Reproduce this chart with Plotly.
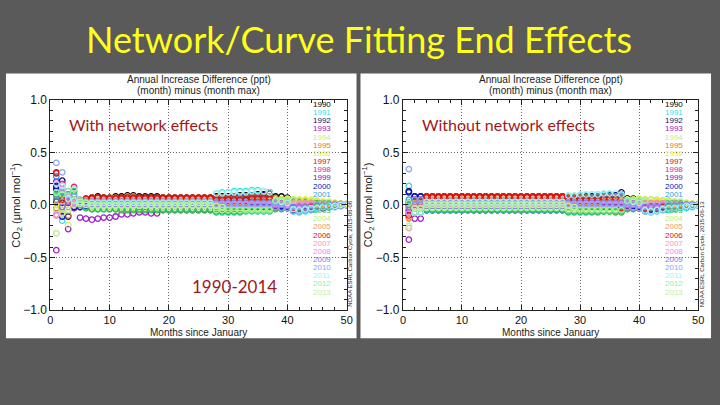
import plotly.graph_objects as go

W, H = 720, 405

YEARS = [1990, 1991, 1992, 1993, 1994, 1995, 1996, 1997, 1998, 1999, 2000, 2001,
         2002, 2003, 2004, 2005, 2006, 2007, 2008, 2009, 2010, 2011, 2012, 2013]
YEAR_COLORS = ['#000000', '#33dde8', '#101070', '#a020c8', '#c8ec80', '#e07838',
               '#f0f020', '#b81818', '#e020a0', '#7a10c8', '#1010c0', '#3898e0',
               '#20c890', '#30c050', '#b8f070', '#f0a050', '#e01010', '#f0a0b0',
               '#e090f0', '#8878e0', '#88a8f0', '#a8f0f0', '#98f098', '#c0f0a0']

# values in hundredths of umol/mol, months 1..n
# ---- With network effects ----
L1990 = [3,5,5,2,3,5,7,8,7,7, 8,8,9,9,8,8,8,8,7,7, 7,7,7,7,7,7,7,8,8,8, 8,9,9,9,10,10,11,8,8,7, 4,3,3,2,2,1,1,1,0,0]
L1991 = [12,-15,-5,0,2,3,3,2,2,2, 2,3,3,3,2,2,2,2,2,2, 2,2,2,2,2,2,2,11,12,12, 13,13,13,14,14,13,12,6,4,2, -6,-7,-6,-5,-4,-3,-2,-2,-1,0]
L1992 = [15,23,-11,3,0,-1,-1,0,0,-1, -1,-1,0,0,0,-1,-1,-1,-1,-1, -1,-1,-1,-1,-1,-1,-1,5,6,6, 7,7,7,8,8,9,12,4,3,2, -4,-4,-3,-3,-2,-2,-1,-1,0,0]
L1993 = [-43,-5,-23,-3,-12,-13,-14,-13,-12,-12, -11,-9,-9,-8,-7,-7,-8,-8,-5,-5, -5,-5,-5,-5,-5,-5,-5,-4,-4,-4, -4,-4,-4,-3,-3,-3,-3,-2,-2,-2, -2,-2,-1,-1,-1,-1,0,0,0,0]
L1994 = [-27,-5,-19,0,-2,-3,-3,-3,-2,-3, -3,-3,-3,-3,-3,-3,-3,-3,-3,-3, -3,-3,-3,-3,-3,-3,-3,-5,-5,-5, -5,-5,-4,-4,-4,-4,-4,5,5,5, 5,5,5,4,3,3,2,2,1,1]
L1995 = [-3,-8,-10,0,2,5,7,7,7,7, 7,7,8,8,7,7,7,7,7,7, 7,7,7,7,7,7,7,7,7,7, 7,7,7,8,8,8,8,6,5,4, 3,3,3,2,2,2,1,1,0,0]
L1996 = [0,3,2,3,4,4,4,4,4,4, 4,4,4,4,4,4,4,4,4,4, 4,4,4,4,4,4,4,2,2,2, 2,2,2,2,2,2,2,5,5,6, 5,5,5,5,4,3,3,2,1,1]
L1997 = [31,2,3,0,4,6,7,7,7,6, 6,7,7,7,7,7,7,7,7,7, 7,7,7,7,7,7,7,6,6,6, 6,6,6,7,7,7,7,3,2,0, 0,0,0,-1,-1,0,0,0,0,0]
L1998 = [20,20,8,17,5,4,3,3,3,3, 3,3,3,3,3,3,3,3,3,3, 3,3,3,3,3,3,3,4,4,4, 4,4,5,5,5,5,5,2,1,0, 0,0,0,0,0,0,0,1,1,0]
L1999 = [22,12,5,2,1,0,0,0,1,0, 0,0,0,0,0,0,0,0,0,0, 0,0,0,0,0,0,0,-2,-2,-2, -2,-2,-2,-2,-2,-2,-2,-1,-1,-1, -1,-1,-1,-1,0,0,0,0,0,0]
L2000 = [18,-11,3,-2,-2,-1,-1,-1,0,-1, -1,-1,-1,-1,-1,-1,-1,-1,-1,-1, -1,-1,-1,-1,-1,-1,-1,3,3,3, 3,3,4,4,4,4,5,0,-1,-2, -5,-5,-4,-4,-3,-3,-2,-1,-1,0]
L2001 = [27,8,10,5,3,2,2,2,2,2, 2,2,2,2,2,2,2,2,2,2, 2,2,2,2,2,2,2,5,5,5, 5,6,6,6,6,6,6,2,1,-1, -3,-3,-3,-3,-2,-2,-1,-1,0,0]
L2002 = [8,12,10,13,2,-2,-4,-4,-4,-4, -4,-4,-4,-4,-4,-4,-4,-4,-4,-4, -4,-4,-4,-4,-4,-4,-4,-7,-7,-7, -7,-7,-6,-6,-6,-6,-6,-3,-3,-3, -3,-3,-2,-2,-2,-1,-1,-1,0,0]
L2003 = [10,5,8,10,0,-3,-4,-4,-4,-4, -4,-5,-5,-5,-5,-5,-5,-5,-5,-5, -5,-5,-5,-5,-5,-5,-5,-6,-6,-6, -6,-6,-5,-5,-5,-5,-5,-4,-4,-3, -3,-2,-2,-2,-1,-1,-1,0,0,0]
L2004 = [-5,0,-2,5,3,2,1,1,1,1, 1,1,1,1,1,1,1,1,1,1, 1,1,1,1,1,1,1,-3,-3,-3, -3,-3,-3,-3,-3,-3,-3,4,5,5, 5,4,4,3,3,2,2,1,1,0]
L2005 = [-10,-8,-2,2,3,5,5,5,5,5, 5,5,5,5,5,5,5,5,5,5, 5,5,5,5,5,5,5,3,3,3, 3,3,3,4,4,4,4,3,3,3, 2,2,2,2,1,1,1,0,0,0]
L2006 = [30,5,2,3,4,6,6,7,6,6, 6,6,6,6,6,6,6,6,6,6, 6,6,6,6,6,6,6,5,5,5, 5,5,6,6,6,6,6,-2,-3,-3, -3,-2,-2,-2,-1,-1,-1,0,0,0]
L2007 = [-9,18,5,2,1,1,1,1,1,1, 1,1,1,1,1,1,1,1,1,1, 1,1,1,1,1,1,1,1,1,1, 1,1,1,1,1,1,1,1,1,0, 0,0,0,0,0,0,0,0,0,0]
L2008 = [-10,15,8,3,0,0,-1,-1,-1,-1, -1,-1,-1,-1,-1,-1,-1,-1,-1,-1, -1,-1,-1,-1,-1,-1,-1,0,0,0, 0,0,0,0,0,0,0,1,1,1, 1,1,1,1,0,0,0,0,0,0]
L2009 = [5,-2,3,0,0,1,1,1,1,1, 1,1,1,1,1,1,1,1,1,1, 1,1,1,1,1,1,1,2,2,2, 2,2,2,2,2,2,2,0,0,-1, -2,-2,-2,-1,-1,-1,0,0,0,0]
L2010 = [40,31,13,8,5,3,3,3,3,3, 3,3,3,3,3,3,3,3,3,3, 3,3,3,3,3,3,3,1,1,1, 1,1,1,1,1,1,1,-2,-3,-3, -6,-6,-5,-4,-3,-2,-2,-1,-1,0]
L2011 = [20,18,6,4,3,2,2,2,2,2, 2,2,2,2,2,2,2,2,2,2, 2,2,2,2,2,2,2,11,11,12, 12,12,12,13,13,13,12,4,3,2, -4,-5,-4,-3,-3,-2,-1,-1,0,0]
L2012 = [12,10,13,15,5,2,0,0,0,0, 0,0,0,0,0,0,0,0,0,0, 0,0,0,0,0,0,0,-5,-5,-5, -5,-5,-5,-5,-5,-5,-5,4,4,4, 4]
L2013 = [-27,-8,-5,0,1,0,-1,-1,-1,-1, -1,-1,-1,-1,-1,-1,-1,-1,-1,-1, -1,-1,-1,-1,-1,-1,-1,-1,-2]

# ---- Without network effects ----
R1990 = [2,5,5,8,8,8,8,8,8,8, 8,8,8,8,8,8,8,8,8,8, 8,8,8,8,8,8,8,7,7,7, 8,8,8,8,9,9,10,6,6,5, -5,-4,-3,-3,-2,-2,-2,-1,-1,0]
R1991 = [18,-7,-7,4,4,4,4,4,4,4, 4,4,4,4,4,4,4,4,4,4, 4,4,4,4,4,4,4,8,8,9, 9,10,10,10,10,9,9,5,4,3, -6,-7,-6,-5,-5,-4,-3,-3,-2,-1]
R1992 = [13,8,8,0,0,0,0,0,0,0, 0,0,0,0,0,0,0,0,0,0, 0,0,0,0,0,0,0,4,4,5, 5,6,7,7,8,9,12,6,5,4, -4,-4,-3,-3,-2,-2,-1,-1,0,0]
R1993 = [-33,-13,-13,-5,-5,-5,-5,-5,-5,-5, -5,-5,-5,-5,-5,-5,-5,-5,-5,-5, -5,-5,-5,-5,-5,-5,-5,-5,-5,-5, -5,-5,-5,-5,-5,-5,-5,-3,-3,-3, -2,-2,-2,-1,-1,-1,-1,0,0,0]
R1994 = [-2,0,0,-1,-1,-1,-1,-1,-1,-1, -1,-1,-1,-1,-1,-1,-1,-1,-1,-1, -1,-1,-1,-1,-1,-1,-1,-6,-6,-6, -6,-6,-6,-6,-6,-6,-6,5,5,5, 5,5,4,4,3,3,2,1,1,1]
R1995 = [-12,2,2,8,8,8,8,8,8,8, 8,8,8,8,8,8,8,8,8,8, 8,8,8,8,8,8,8,7,7,7, 7,7,8,8,8,8,8,3,2,2, 2,2,2,1,1,1,0,0,0,0]
R1996 = [-5,3,3,4,4,4,4,4,4,4, 4,4,4,4,4,4,4,4,4,4, 4,4,4,4,4,4,4,3,3,3, 3,3,3,3,3,3,3,5,5,6, 5,5,4,4,4,3,2,2,1,1]
R1997 = [-8,2,2,7,7,7,7,7,7,7, 7,7,7,7,7,7,7,7,7,7, 7,7,7,7,7,7,7,6,6,6, 6,6,6,6,6,6,-2,2,2,1, 0,0,0,0,0,0,0,0,0,0]
R1998 = [0,-2,-2,3,3,3,3,3,3,3, 3,3,3,3,3,3,3,3,3,3, 3,3,3,3,3,3,3,4,4,4, 4,4,4,4,4,5,5,1,1,0, 0,0,0,0,0,1,1,0,0,0]
R1999 = [-5,-3,-3,-5,-5,-5,-5,-5,-5,-5, -5,-5,-5,-5,-5,-5,-5,-5,-5,-5, -5,-5,-5,-5,-5,-5,-5,-2,-2,-2, -2,-2,-2,-2,-2,-2,-2,-1,-1,-1, -1,-1,-1,0,0,0,0,0,0,0]
R2000 = [12,8,8,-4,-4,-4,-4,-4,-4,-4, -4,-4,-4,-4,-4,-4,-4,-4,-4,-4, -4,-4,-4,-4,-4,-4,-4,3,3,3, 3,3,4,4,4,4,5,0,-1,-2, -5,-5,-4,-4,-3,-3,-2,-1,-1,0]
R2001 = [5,5,5,4,4,4,4,4,4,4, 4,4,4,4,4,4,4,4,4,4, 4,4,4,4,4,4,4,6,6,6, 6,7,7,7,7,7,7,2,1,-1, -3,-3,-3,-3,-2,-2,-1,-1,0,0]
R2002 = [2,-7,-7,-5,-5,-5,-5,-5,-5,-5, -5,-5,-5,-5,-5,-5,-5,-5,-5,-5, -5,-5,-5,-5,-5,-5,-5,-7,-7,-7, -7,-7,-7,-6,-6,-6,-6,-3,-3,-3, -3,-3,-2,-2,-2,-1,-1,-1,0,0]
R2003 = [0,-7,-7,-4,-4,-4,-4,-4,-4,-4, -4,-4,-4,-4,-4,-4,-4,-4,-4,-4, -4,-4,-4,-4,-4,-4,-4,-6,-6,-6, -6,-6,-6,-6,-6,-7,-7,-4,-4,-3, -3,-2,-2,-2,-1,-1,-1,0,0,0]
R2004 = [-2,0,0,0,0,0,0,0,0,0, 0,0,0,0,0,0,0,0,0,0, 0,0,0,0,0,0,0,-3,-3,-3, -3,-3,-3,-3,-3,-3,-3,4,5,5, 5,5,5,4,4,3,3,2,1,0]
R2005 = [-13,2,2,5,5,5,5,5,5,5, 5,5,5,5,5,5,5,5,5,5, 5,5,5,5,5,5,5,3,3,3, 3,3,3,4,4,4,4,3,3,3, 2,2,2,2,1,1,1,0,0,0]
R2006 = [-10,5,5,8,8,8,8,8,8,8, 8,8,8,8,8,8,8,8,8,8, 8,8,8,8,8,8,8,5,5,5, 5,5,6,6,6,6,-3,-2,-3,-3, -3,-2,-2,-2,-1,-1,-1,0,0,0]
R2007 = [-22,0,0,1,1,1,1,1,1,1, 1,1,1,1,1,1,1,1,1,1, 1,1,1,1,1,1,1,1,1,1, 1,1,1,1,1,1,1,1,1,0, 0,0,0,0,0,0,0,0,0,0]
R2008 = [-8,-3,-3,-1,-1,-1,-1,-1,-1,-1, -1,-1,-1,-1,-1,-1,-1,-1,-1,-1, -1,-1,-1,-1,-1,-1,-1,0,0,0, 0,0,0,0,0,0,0,1,1,1, 1,1,1,1,0,0,0,0,0,0]
R2009 = [-2,0,0,-1,-1,-1,-1,-1,-1,-1, -1,-1,-1,-1,-1,-1,-1,-1,-1,-1, -1,-1,-1,-1,-1,-1,-1,2,2,2, 2,2,2,2,2,2,2,0,0,-1, -2,-2,-2,-1,-1,-1,0,0,0,0]
R2010 = [34,5,5,2,2,2,2,2,2,2, 2,2,2,2,2,2,2,2,2,2, 2,2,2,2,2,2,2,1,1,1, 1,1,1,1,1,1,1,-2,-3,-3, -6,-6,-5,-4,-3,-2,-2,-1,-1,0]
R2011 = [-20,-7,-7,3,3,3,3,3,3,3, 3,3,3,3,3,3,3,3,3,3, 3,3,3,3,3,3,3,9,9,10, 10,10,10,11,11,11,10,4,3,2, -5,-6,-5,-4,-3,-3,-2,-1,-1,0]
R2012 = [2,-3,-3,-3,-3,-3,-3,-3,-3,-3, -3,-3,-3,-3,-3,-3,-3,-3,-3,-3, -3,-3,-3,-3,-3,-3,-3,-5,-5,-5, -5,-5,-5,-5,-5,-5,-5,4,4,4, 4]
R2013 = [-20,-3,-3,0,0,0,0,0,0,0, 0,0,0,0,0,0,0,0,0,0, 0,0,0,0,0,0,0,-1,-2]

LEFT = [L1990, L1991, L1992, L1993, L1994, L1995, L1996, L1997, L1998, L1999, L2000, L2001,
        L2002, L2003, L2004, L2005, L2006, L2007, L2008, L2009, L2010, L2011, L2012, L2013]
RIGHT = [R1990, R1991, R1992, R1993, R1994, R1995, R1996, R1997, R1998, R1999, R2000, R2001,
         R2002, R2003, R2004, R2005, R2006, R2007, R2008, R2009, R2010, R2011, R2012, R2013]

X_TICKS = [0, 10, 20, 30, 40, 50]
Y_TICKS = [-1.0, -0.5, 0.0, 0.5, 1.0]

SLIDE_BG = '#5a5a5a'
PLOT_BG = '#dcdcdc'
RED_TXT = '#a01818'


def fx(px):
    return px / W


def fy(py):
    return 1 - py / H


fig = go.Figure()

panels = [('x', 'y', LEFT), ('x2', 'y2', RIGHT)]
for xa, ya, data in panels:
    for year, col, vals in zip(YEARS, YEAR_COLORS, data):
        months = list(range(1, len(vals) + 1))
        fig.add_trace(go.Scatter(
            x=months, y=[v / 100 for v in vals], mode='markers',
            xaxis=xa, yaxis=ya, showlegend=False, name=str(year),
            marker=dict(symbol='circle-open', size=5.5, color=col,
                        line=dict(width=1.3, color=col))))

# plot area pixel boxes
PLOTS = [dict(x0=48, x1=348, y0=96, y1=314), dict(x0=405, x1=704, y0=96, y1=314)]
PANELS = [dict(x0=3, x1=358, y0=69, y1=343), dict(x0=362, x1=717, y0=69, y1=343)]

yfont = dict(family='Liberation Sans, Arial, sans-serif', size=12, color='#111111')
xfont = dict(family='Liberation Sans, Arial, sans-serif', size=11, color='#111111')
GRID = dict(showgrid=True, gridcolor='#6a6a6a', griddash='1px,2px', gridwidth=1)


def xaxis_cfg(p, anchor):
    return dict(domain=[fx(p['x0']), fx(p['x1'])], range=[0, 50], anchor=anchor,
                tickvals=X_TICKS, ticks='inside', ticklen=5, tickwidth=1, tickcolor='#222',
                showline=True, linecolor='#222', linewidth=1, mirror='ticks',
                zeroline=False, tickfont=xfont, ticklabelstandoff=0, **GRID,
                minor=dict(dtick=2, ticks='inside', ticklen=3, tickcolor='#222', showgrid=False))


def yaxis_cfg(p, anchor):
    return dict(domain=[fy(p['y1']), fy(p['y0'])], range=[-1, 1], anchor=anchor,
                tickvals=Y_TICKS, tickformat='.1f', ticks='inside', ticklen=5, tickwidth=1,
                tickcolor='#222', showline=True, linecolor='#222', linewidth=1, mirror='ticks',
                zeroline=False, tickfont=yfont, **GRID,
                minor=dict(dtick=0.1, ticks='inside', ticklen=3, tickcolor='#222', showgrid=False))


shapes = []
for pn in PANELS:
    shapes.append(dict(type='rect', xref='paper', yref='paper', layer='below',
                       x0=fx(pn['x0']), x1=fx(pn['x1']), y0=fy(pn['y1']), y1=fy(pn['y0']),
                       fillcolor='white', line=dict(width=0)))

ann = []
small = 'Liberation Sans, Arial, sans-serif'
# main title
ann.append(dict(text='Network/Curve Fitting End Effects', x=0.5, y=fy(33), xref='paper', yref='paper',
                showarrow=False, xanchor='center', yanchor='middle',
                font=dict(family='Lato, sans-serif', size=36, color='#ffff1a')))

labels = ['With network effects', 'Without network effects']
for k, p in enumerate(PLOTS):
    cx = (p['x0'] + p['x1']) / 2
    ann.append(dict(text='Annual Increase Difference (ppt)', x=fx(cx), y=fy(75), xref='paper', yref='paper',
                    showarrow=False, xanchor='center', yanchor='middle',
                    font=dict(family=small, size=10, color='#222')))
    ann.append(dict(text='(month) minus (month max)', x=fx(cx), y=fy(86.5), xref='paper', yref='paper',
                    showarrow=False, xanchor='center', yanchor='middle',
                    font=dict(family=small, size=10, color='#222')))
    ann.append(dict(text='Months since January', x=fx(cx), y=fy(337.5), xref='paper', yref='paper',
                    showarrow=False, xanchor='center', yanchor='middle',
                    font=dict(family=small, size=10, color='#222')))
    ann.append(dict(text='CO<sub>2</sub> (μmol mol<sup>−1</sup>)', x=fx(p['x0'] - 35), y=fy(205),
                    xref='paper', yref='paper', textangle=-90,
                    showarrow=False, xanchor='center', yanchor='middle',
                    font=dict(family=small, size=11, color='#222')))
    ann.append(dict(text=labels[k], x=fx(p['x0'] + 17), y=fy(122), xref='paper', yref='paper',
                    showarrow=False, xanchor='left', yanchor='middle',
                    font=dict(family='Lato, sans-serif', size=16, color=RED_TXT)))
    stamp = 'NOAA ESRL Carbon Cycle, 2015-06-08' if k == 0 else 'NOAA ESRL Carbon Cycle, 2015-06-13'
    ann.append(dict(text=stamp, x=fx(p['x1'] + 4), y=fy(313), xref='paper', yref='paper', textangle=-90,
                    showarrow=False, xanchor='center', yanchor='bottom',
                    font=dict(family=small, size=6, color='#222')))
    for i, (year, col) in enumerate(zip(YEARS, YEAR_COLORS)):
        ann.append(dict(text=str(year), x=fx(p['x1'] - 25), y=fy(101 + 8.45 * i), xref='paper', yref='paper',
                        showarrow=False, xanchor='center', yanchor='middle',
                        font=dict(family=small, size=8, color=col)))

ann.append(dict(text='1990-2014', x=fx(234), y=fy(289), xref='paper', yref='paper',
                showarrow=False, xanchor='center', yanchor='middle',
                font=dict(family='Lato, sans-serif', size=17, color=RED_TXT)))

fig.update_layout(
    width=W, height=H, margin=dict(l=0, r=0, t=0, b=0),
    paper_bgcolor=SLIDE_BG, plot_bgcolor=PLOT_BG,
    xaxis=xaxis_cfg(PLOTS[0], 'y'), yaxis=yaxis_cfg(PLOTS[0], 'x'),
    xaxis2=xaxis_cfg(PLOTS[1], 'y2'), yaxis2=yaxis_cfg(PLOTS[1], 'x2'),
    shapes=shapes, annotations=ann,
)

fig.write_html('out.html')
